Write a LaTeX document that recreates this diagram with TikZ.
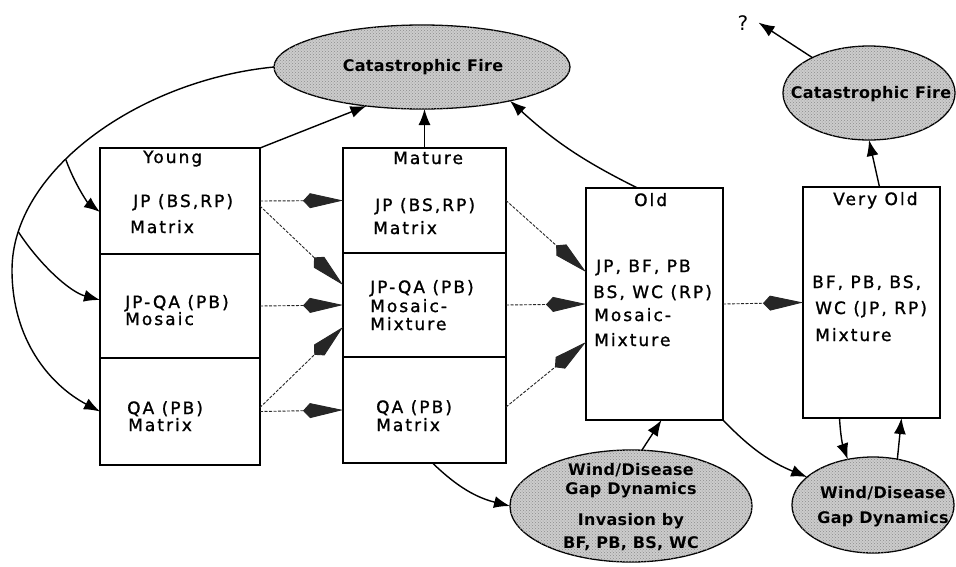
\documentclass[tikz,border=0pt]{standalone}
\usepackage{fontspec}
\setmainfont{DejaVu Sans}
\newfontfamily\boxfont{DejaVu Sans}[LetterSpace=12,FakeBold=1.2]
\newfontfamily\ellfont{DejaVu Sans}[LetterSpace=2]
\usetikzlibrary{arrows.meta,shapes.geometric,patterns}
\begin{document}
\begin{tikzpicture}[x=1pt,y=-1pt,
 cell/.style={draw,line width=1.5pt,rectangle,inner sep=0pt,outer sep=0pt},
 blob/.style={draw,line width=1.3pt,ellipse,fill=black!20,inner sep=0pt,outer sep=0pt,
   postaction={pattern=crosshatch dots,pattern color=black!45}},
 txt/.style={anchor=base west,inner sep=0pt,font=\boxfont\fontsize{17}{20}\selectfont},
 etxt/.style={anchor=base,inner sep=0pt,font=\ellfont\bfseries\fontsize{16}{19}\selectfont},
 solidarr/.style={line width=1.4pt,-{Latex[length=16pt,width=12pt]}},
 dasharr/.style={line width=0.9pt,draw=black!85,dash pattern=on 3pt off 1.5pt,-{Kite[length=40pt,width=15pt,inset=7pt]}}
]
\useasboundingbox (0,0) rectangle (956,566);
% boxes
\node[cell,minimum width=160pt,minimum height=106pt] (y1) at (180,201) {};
\node[cell,minimum width=160pt,minimum height=104pt] (y2) at (180,306) {};
\node[cell,minimum width=160pt,minimum height=107pt] (y3) at (180,411.5) {};
\node[cell,minimum width=163pt,minimum height=105pt] (m1) at (424.5,200.5) {};
\node[cell,minimum width=163pt,minimum height=104pt] (m2) at (424.5,305) {};
\node[cell,minimum width=163pt,minimum height=106pt] (m3) at (424.5,410) {};
\node[cell,minimum width=137pt,minimum height=232pt] (old) at (654.5,304) {};
\node[cell,minimum width=137pt,minimum height=231pt] (vold) at (871.5,302.5) {};
% ellipses
\node[blob,minimum width=296pt,minimum height=84pt] (cf1) at (422,67) {};
\node[blob,minimum width=172pt,minimum height=94pt] (cf2) at (869,93) {};
\node[blob,minimum width=242pt,minimum height=112pt] (wd1) at (631,506) {};
\node[blob,minimum width=162pt,minimum height=96pt] (wd2) at (873,505) {};
% ellipse texts
\node[etxt] (cf1t) at (423,71) {Catastrophic Fire};
\node[etxt] (cf2t) at (871,98) {Catastrophic Fire};
\node[etxt] (wd1a) at (631,475) {Wind/Disease};
\node[etxt] (wd1b) at (631,494) {Gap Dynamics};
\node[etxt] (wd1c) at (631,525) {Invasion by};
\node[etxt] (wd1d) at (631,548) {BF, PB, BS, WC};
\node[etxt] (wd2a) at (883,498) {Wind/Disease};
\node[etxt] (wd2b) at (883,523) {Gap Dynamics};
% box texts
\node[txt] (ya) at (143,163) {Young};
\node[txt] (yb) at (133,207) {JP (BS,RP)};
\node[txt] (yc) at (130,233) {Matrix};
\node[txt] (yd) at (125,308) {JP-QA (PB)};
\node[txt] (ye) at (125,325) {Mosaic};
\node[txt] (yf) at (127,414) {QA (PB)};
\node[txt] (yg) at (128,431) {Matrix};
\node[txt] (ma) at (393,164) {Mature};
\node[txt] (mb) at (375,211) {JP (BS,RP)};
\node[txt] (mc) at (373,234) {Matrix};
\node[txt] (md) at (370,293) {JP-QA (PB)};
\node[txt] (me) at (370,312) {Mosaic-};
\node[txt] (mf) at (370,330) {Mixture};
\node[txt] (mg) at (376,413) {QA (PB)};
\node[txt] (mh) at (376,431) {Matrix};
\node[txt] (oa) at (634,206) {Old};
\node[txt] (ob) at (596,272) {JP, BF, PB};
\node[txt] (oc) at (593,298) {BS, WC (RP)};
\node[txt] (od) at (594,321) {Mosaic-};
\node[txt] (oe) at (594,346) {Mixture};
\node[txt] (va) at (833,205) {Very Old};
\node[txt] (vb) at (812,288) {BF, PB, BS,};
\node[txt] (vc) at (815,314) {WC (JP, RP)};
\node[txt] (vd) at (815,341) {Mixture};
\node[anchor=base,inner sep=0pt,font=\fontsize{20}{24}\selectfont] (q) at (743,30) {?};
% solid arrows
\draw[solidarr] (y1.north east) -- (cf1.215);
\draw[solidarr] (m1.north) -- (m1.north |- cf1.south);
\draw[solidarr] ([xshift=-17pt]old.north) to[bend left=8] (cf1.339);
\draw[solidarr] ([xshift=8pt]vold.north) -- (cf2.south);
\draw[solidarr] (cf2.148) -- ([xshift=10pt]q.east);
\draw[solidarr] (cf1.west) .. controls (140,80) and (12,170) .. (12,270)
   coordinate[pos=0.6] (b1) coordinate[pos=0.87] (b2)
   .. controls (12,340) and (50,385) .. (y3.west);
\draw[solidarr] (b1) .. controls (75,185) and (88,203) .. ([yshift=-11pt]y1.west);
\draw[solidarr] (b2) .. controls (40,265) and (70,292) .. ([yshift=6pt]y2.west);
\draw[solidarr] ([xshift=8pt]m3.south) to[bend right=15] (wd1.west);
\draw[solidarr] (wd1.79) -- ([xshift=7pt]old.south);
\draw[solidarr] (old.south east) to[bend right=12] (wd2.157);
\draw[solidarr] ([xshift=-32pt]vold.south) to[bend right=8] (wd2.119);
\draw[solidarr] (wd2.62) -- ([xshift=30pt]vold.south);
% dashed arrows
\draw[dasharr] (y1.east) -- (m1.west);
\draw[dasharr] ([yshift=-5pt]y1.east) -- ([yshift=20pt]m2.west);
\draw[dasharr] (y2.east) -- (m2.west);
\draw[dasharr] ([yshift=4pt]y3.east) -- ([yshift=-22pt]m2.west);
\draw[dasharr] (y3.east) -- (m3.west);
\draw[dasharr] (m1.east) -- ([yshift=32pt]old.west);
\draw[dasharr] (m2.east) -- (old.west);
\draw[dasharr] ([yshift=3pt]m3.east) -- ([yshift=-38pt]old.west);
\draw[dasharr] (old.east) -- (vold.west);
\end{tikzpicture}
\end{document}
